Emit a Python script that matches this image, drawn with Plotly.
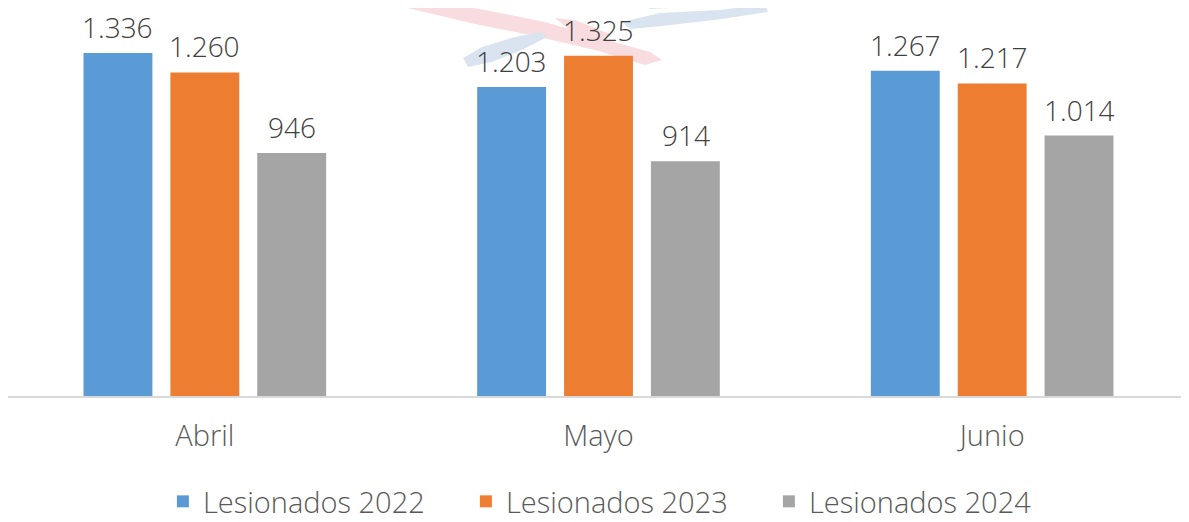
import plotly.graph_objects as go

categories = ["Abril", "Mayo", "Junio"]
series_names = ["Lesionados 2022", "Lesionados 2023", "Lesionados 2024"]
values_2022 = [1336, 1203, 1267]
values_2023 = [1260, 1325, 1217]
values_2024 = [946, 914, 1014]
colors = ["#5B9BD5", "#ED7D31", "#A5A5A5"]

FONT = "Open Sans"

def fmt(v):
    return f"{v:,}".replace(",", ".")

fig = go.Figure()
all_series = [values_2022, values_2023, values_2024]
for name, vals, col in zip(series_names, all_series, colors):
    fig.add_trace(go.Bar(
        x=categories, y=vals, name=name, marker_color=col,
        marker_line_width=0,
    ))

# value labels above each bar
BAR_STEP = 87  # pixel distance between bar centres within a group
for si, vals in enumerate(all_series):
    for cat, v in zip(categories, vals):
        fig.add_annotation(x=cat, y=v, text=fmt(v), showarrow=False,
                           xshift=(si - 1) * BAR_STEP, yanchor="bottom", yshift=5,
                           font=dict(size=28, color="#404040", family=FONT, weight=300))

# page has an 8px body margin; the figure is sized to fill the rest of the window
OFF = 8
PW, PH = 1181, 388

def pth(pts):
    s = ""
    for i, (px, py) in enumerate(pts):
        x = (px - OFF) / PW
        y = 1 - (py - OFF) / PH
        s += ("M " if i == 0 else " L ") + f"{x:.4f} {y:.4f}"
    return s + " Z"

pink = [(372, 0), (425, 0), (485, 10), (545, 22), (600, 38), (650, 52), (662, 60),
        (645, 65), (595, 50), (535, 36), (475, 24), (420, 11)]
pink2 = [(555, 18), (575, 20), (610, 34), (600, 40), (570, 30)]
blue1 = [(463, 58), (482, 47), (515, 37), (540, 32), (547, 37), (522, 50), (492, 62), (468, 67)]
blue2 = [(622, 22), (660, 13), (720, 10), (765, 4), (768, 12), (722, 19), (662, 26), (630, 29)]
blue3 = [(640, 0), (760, 0), (735, 5), (690, 7), (650, 9)]
for poly, col in [(pink, "#F9DCDF"), (pink2, "#F9DCDF"), (blue1, "#DAE4F0"),
                  (blue2, "#DAE4F0"), (blue3, "#DAE4F0")]:
    fig.add_shape(type="path", xref="paper", yref="paper", layer="below",
                  path=pth(poly), fillcolor=col, line=dict(width=0))

fig.update_layout(
    width=1181, height=514,
    margin=dict(l=0, r=0, t=0, b=126, autoexpand=False),
    paper_bgcolor="white", plot_bgcolor="white",
    barmode="group", bargap=0.338, bargroupgap=0.207,
    font=dict(family=FONT, color="#595959", weight=300),
    xaxis=dict(showline=True, linecolor="#D9D9D9", linewidth=2,
               tickfont=dict(size=29, color="#595959", family=FONT, weight=300), ticks="",
               ticklabelstandoff=13, showgrid=False),
    yaxis=dict(range=[0, 1511], visible=False, showgrid=False),
    legend=dict(orientation="h", x=0.516, xanchor="center", y=-0.3376, yanchor="bottom",
                font=dict(size=29, color="#595959", family=FONT, weight=300),
                itemwidth=30, entrywidth=258, entrywidthmode="pixels",
                traceorder="normal"),
    showlegend=True,
)

fig.write_html("out.html")
